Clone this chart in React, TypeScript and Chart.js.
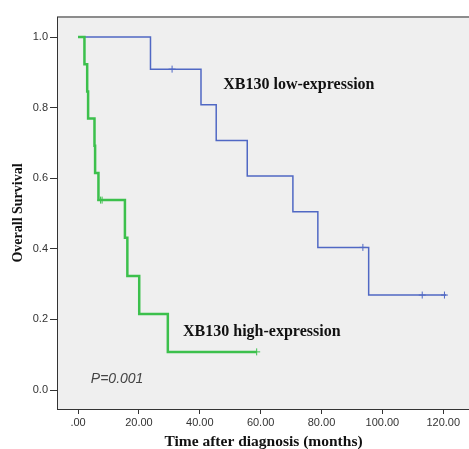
import React, { useEffect, useRef } from "react";
import { Chart, registerables } from "chart.js";

Chart.register(...registerables);

// Kaplan-Meier step points (time in months, survival)
const highTimes = [0, 2.1, 3.0, 3.3, 5.4, 5.6, 6.7, 15.4, 16.2, 20.1, 29.5, 58.7];
const highSurv = [1.0, 0.923, 0.846, 0.769, 0.692, 0.615, 0.538, 0.431, 0.323, 0.215, 0.108, 0.108];
const highCensorTimes = [7.4, 7.9, 58.7];
const highCensorSurv = [0.538, 0.538, 0.108];

const lowTimes = [0, 23.8, 40.4, 45.4, 55.6, 70.6, 78.8, 95.5, 121.0];
const lowSurv = [1.0, 0.909, 0.808, 0.707, 0.606, 0.505, 0.404, 0.269, 0.269];
const lowCensorTimes = [30.9, 93.6, 113.1, 120.4];
const lowCensorSurv = [0.909, 0.404, 0.269, 0.269];

const xTickValues = [0, 20, 40, 60, 80, 100, 120];
const yTickValues = [0, 0.2, 0.4, 0.6, 0.8, 1.0];

const annotations = [
  { text: "XB130 low-expression", x: 47.7, y: 0.864, font: "bold 16px 'Liberation Serif'", color: "#111" },
  { text: "XB130 high-expression", x: 34.5, y: 0.164, font: "bold 16px 'Liberation Serif'", color: "#111" },
  { text: "P=0.001", x: 4.2, y: 0.031, font: "italic 14px 'Liberation Sans'", color: "#444" },
];

const toPts = (xs: number[], ys: number[]) => xs.map((x, i) => ({ x, y: ys[i] }));

const framePlugin = {
  id: "frame",
  beforeDraw(chart: any) {
    const { ctx, chartArea: a } = chart;
    ctx.save();
    ctx.fillStyle = "#efefef";
    ctx.fillRect(a.left, a.top, a.right - a.left, a.bottom - a.top);
    ctx.strokeStyle = "#8c8c8c";
    ctx.lineWidth = 2;
    ctx.beginPath();
    ctx.moveTo(a.left, a.top);
    ctx.lineTo(a.right, a.top);
    ctx.stroke();
    ctx.restore();
  },
  afterDatasetsDraw(chart: any) {
    const { ctx, scales } = chart;
    ctx.save();
    ctx.textAlign = "left";
    ctx.textBaseline = "middle";
    annotations.forEach((an) => {
      ctx.font = an.font;
      ctx.fillStyle = an.color;
      ctx.fillText(an.text, scales.x.getPixelForValue(an.x), scales.y.getPixelForValue(an.y));
    });
    ctx.restore();
  },
};

export default function App() {
  const ref = useRef<HTMLCanvasElement | null>(null);
  useEffect(() => {
    if (!ref.current) return;
    const chart = new Chart(ref.current, {
      type: "scatter",
      data: {
        datasets: [
          {
            data: toPts(highTimes, highSurv),
            showLine: true,
            stepped: "before",
            borderColor: "#3cc04c",
            borderWidth: 2.5,
            pointRadius: 0,
          },
          {
            data: toPts(highCensorTimes, highCensorSurv),
            showLine: false,
            pointStyle: "cross",
            pointRadius: 3.5,
            borderColor: "#3cc04c",
            borderWidth: 1,
          },
          {
            data: toPts(lowTimes, lowSurv),
            showLine: true,
            stepped: "before",
            borderColor: "#5068c4",
            borderWidth: 1.5,
            pointRadius: 0,
          },
          {
            data: toPts(lowCensorTimes, lowCensorSurv),
            showLine: false,
            pointStyle: "cross",
            pointRadius: 3.5,
            borderColor: "#5068c4",
            borderWidth: 1,
          },
        ],
      } as any,
      options: {
        animation: false,
        responsive: false,
        layout: { padding: { top: 17, left: 0, right: 0, bottom: 0 } },
        plugins: { legend: { display: false }, tooltip: { enabled: false } },
        scales: {
          x: {
            type: "linear",
            min: -6.92,
            max: 128.8,
            afterBuildTicks: (s: any) => {
              s.ticks = xTickValues.map((v) => ({ value: v }));
            },
            afterFit: (s: any) => {
              s.height = 40;
            },
            grid: { drawOnChartArea: false, drawTicks: true, tickLength: 5, color: "#333" },
            border: { display: true, color: "#333", width: 1 },
            ticks: {
              padding: 2,
              color: "#333",
              font: { family: "'Liberation Sans'", size: 11 },
              callback: (v: any) => (v === 0 ? ".00" : Number(v).toFixed(2)),
            },
            title: {
              display: true,
              text: "Time after diagnosis (months)",
              color: "#111",
              font: { family: "'Liberation Serif'", size: 15.5, weight: "bold", lineHeight: 0.95 },
              padding: { top: 0, bottom: 0 },
            },
          },
          y: {
            type: "linear",
            min: -0.0538,
            max: 1.0567,
            afterBuildTicks: (s: any) => {
              s.ticks = yTickValues.map((v) => ({ value: v }));
            },
            afterFit: (s: any) => {
              s.width = 57;
            },
            grid: { drawOnChartArea: false, drawTicks: true, tickLength: 7, color: "#333" },
            border: { display: true, color: "#333", width: 1 },
            ticks: {
              padding: 2,
              color: "#333",
              font: { family: "'Liberation Sans'", size: 11 },
              callback: (v: any) => Number(v).toFixed(1),
            },
            title: {
              display: true,
              text: "Overall Survival",
              color: "#111",
              font: { family: "'Liberation Serif'", size: 14, weight: "bold", lineHeight: 1.2 },
              padding: { top: 10, bottom: 0 },
            },
          },
        },
      } as any,
      plugins: [framePlugin],
    });
    return () => chart.destroy();
  }, []);
  return (
    <div style={{ position: "absolute", left: 0, top: 0, width: 469, height: 449, overflow: "hidden", background: "#fff" }}>
      <canvas ref={ref} width={475} height={449} style={{ display: "block" }} />
    </div>
  );
}
